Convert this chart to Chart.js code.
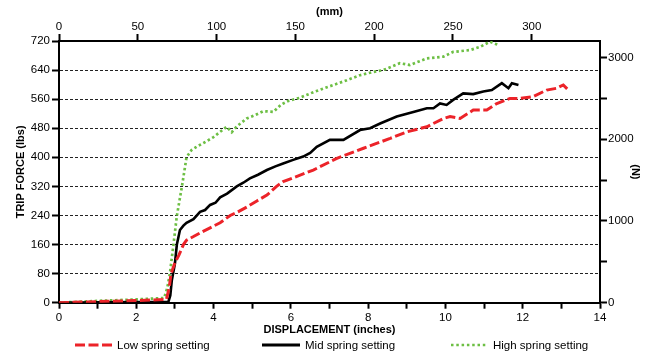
<!DOCTYPE html>
<html lang="en">
<head>
  <meta charset="UTF-8">
  <title>Trip force vs displacement</title>
  <script src="https://cdn.jsdelivr.net/npm/chart.js"></script>
  <style>
    body { margin: 0; background: #fff; }
    #wrap { position: relative; width: 650px; height: 352px; }
    .leg { position: absolute; top: 339px; display: flex; align-items: center;
           font: 11.5px "Liberation Sans", Arial, sans-serif; color: #000; white-space: nowrap; }
    .leg svg { margin-right: 5px; }
  </style>
</head>
<body>
  <div id="wrap">
    <canvas id="chart"></canvas>
    <div class="leg" style="left:75px">
      <svg width="37" height="6"><line x1="0" y1="3" x2="37" y2="3" stroke="#ec2329" stroke-width="3" stroke-dasharray="10 3.5"/></svg>Low spring setting
    </div>
    <div class="leg" style="left:262px">
      <svg width="38" height="6"><line x1="0" y1="3" x2="38" y2="3" stroke="#000" stroke-width="3"/></svg>Mid spring setting
    </div>
    <div class="leg" style="left:451px">
      <svg width="37" height="6"><line x1="0" y1="3" x2="37" y2="3" stroke="#6dbf44" stroke-width="2.6" stroke-dasharray="2.5 2.8"/></svg>High spring setting
    </div>
  </div>

  <script>
    // displacement (inches) / trip force (lbs)
    const lowX = [0, 1, 2, 2.78, 2.85, 2.9, 3.0, 3.1, 3.22, 3.3, 3.48, 3.65, 3.91, 4.17, 4.43, 4.6, 4.86, 5.12, 5.38, 5.63, 5.8, 6.24, 6.58, 7.19, 7.88, 8.57, 9.0, 9.52, 9.95, 10.12, 10.38, 10.72, 11.07, 11.33, 11.67, 11.93, 12.27, 12.62, 12.88, 13.05, 13.18];
    const lowY = [0, 3, 6, 9, 40, 80, 110, 130, 160, 172, 182, 192, 206, 220, 240, 248, 263, 280, 296, 320, 333, 351, 365, 397, 425, 452, 470, 484, 507, 512, 507, 530, 530, 548, 562, 562, 567, 585, 590, 599, 585];

    const midX = [0, 1, 2, 2.83, 2.88, 2.92, 3.0, 3.05, 3.13, 3.22, 3.3, 3.48, 3.65, 3.78, 3.91, 4.05, 4.17, 4.35, 4.6, 4.77, 4.94, 5.15, 5.38, 5.6, 5.8, 6.06, 6.32, 6.5, 6.67, 7.01, 7.36, 7.79, 8.05, 8.31, 8.74, 9.17, 9.52, 9.69, 9.86, 10.03, 10.2, 10.46, 10.72, 10.98, 11.2, 11.46, 11.63, 11.72, 11.89];
    const midY = [0, 1, 2, 2, 20, 62, 108, 160, 200, 212, 220, 230, 250, 255, 269, 275, 290, 300, 320, 330, 342, 352, 365, 375, 383, 393, 402, 412, 429, 448, 448, 475, 480, 493, 512, 525, 535, 535, 548, 544, 558, 576, 574, 581, 585, 604, 590, 604, 599];

    const highX = [0, 1, 2, 2.72, 2.8, 2.87, 2.96, 3.05, 3.18, 3.3, 3.43, 3.56, 3.75, 3.99, 4.17, 4.34, 4.47, 4.6, 4.86, 5.05, 5.29, 5.55, 5.75, 5.93, 6.24, 6.6, 7.1, 7.45, 7.79, 8.1, 8.39, 8.82, 9.08, 9.52, 9.95, 10.2, 10.64, 10.9, 11.15, 11.37];
    const highY = [0, 5, 9, 13, 40, 81, 158, 239, 319, 400, 420, 429, 440, 455, 470, 484, 469, 485, 507, 515, 527, 525, 545, 555, 564, 580, 599, 612, 626, 634, 640, 659, 654, 672, 677, 690, 695, 704, 718, 709];

    // right axis ticks (N); only the thousands carry a label
    const newtonTicks = [0, 500, 1000, 1500, 2000, 2500, 3000];

    const LB_TO_N = 4.448;
    const IN_MAX = 14;
    const LB_MAX = 720;
    const MM_MAX = 343.3;   // top scale as printed

    const pts = (xs, ys) => xs.map((x, i) => ({ x, y: ys[i] }));

    Chart.defaults.font.family = '"Liberation Sans", Arial, sans-serif';
    Chart.defaults.color = '#000';

    const tickFont = { size: 11.5 };
    const titleFont = { size: 11, weight: 'bold' };

    new Chart(document.getElementById('chart'), {
      type: 'line',
      data: {
        datasets: [
          { label: 'Low spring setting', data: pts(lowX, lowY), borderColor: '#ec2329',
            borderWidth: 3, borderDash: [10, 3.5] },
          { label: 'Mid spring setting', data: pts(midX, midY), borderColor: '#000',
            borderWidth: 2.6 },
          { label: 'High spring setting', data: pts(highX, highY), borderColor: '#6dbf44',
            borderWidth: 2.7, borderDash: [2.5, 2.6] }
        ]
      },
      options: {
        responsive: true,
        maintainAspectRatio: false,
        animation: false,
        layout: { padding: { left: 0, right: 0, top: 0, bottom: 14 } },
        elements: { point: { radius: 0 }, line: { tension: 0 } },
        plugins: { legend: { display: false }, tooltip: { enabled: false } },
        scales: {
          x: {
            type: 'linear', position: 'bottom', min: 0, max: IN_MAX,
            ticks: { stepSize: 1, autoSkip: false, maxRotation: 0, font: tickFont, padding: 2,
                     callback: v => (v % 2 === 0 ? v : '') },
            grid: { drawOnChartArea: false, tickLength: 6, tickWidth: 2, tickColor: '#000' },
            border: { color: '#000', width: 2 },
            title: { display: true, text: 'DISPLACEMENT (inches)', font: titleFont, padding: { top: 0, bottom: 1 } },
            afterFit: s => { s.height = 35.3; }
          },
          x2: {
            type: 'linear', position: 'top', min: 0, max: MM_MAX,
            ticks: { stepSize: 50, includeBounds: false, maxRotation: 0, font: tickFont, padding: 0 },
            grid: { drawOnChartArea: false, tickLength: 7, tickWidth: 2, tickColor: '#000' },
            border: { color: '#000', width: 2 },
            title: { display: true, text: '(mm)', font: titleFont, padding: { top: 5.4, bottom: 0 } },
            afterFit: s => { s.height = 41; }
          },
          y: {
            type: 'linear', position: 'left', min: 0, max: LB_MAX,
            ticks: { stepSize: 80, font: tickFont, padding: 2 },
            grid: { color: '#222', lineWidth: 1, tickLength: 7, tickWidth: 2, tickColor: '#000' },
            border: { color: '#000', width: 2, dash: [3, 2] },
            title: { display: true, text: 'TRIP FORCE (lbs)', font: titleFont, padding: { top: 14, bottom: 0 } },
            afterFit: s => { s.width = 59; }
          },
          y2: {
            type: 'linear', position: 'right', min: 0, max: LB_MAX * LB_TO_N,
            afterBuildTicks: s => { s.ticks = newtonTicks.map(v => ({ value: v })); },
            ticks: { autoSkip: false, font: tickFont, padding: 1,
                     callback: v => (v % 1000 === 0 ? v : '') },
            grid: { drawOnChartArea: false, tickLength: 7, tickWidth: 2, tickColor: '#000' },
            border: { color: '#000', width: 2 },
            title: { display: true, text: '(N)', font: titleFont, padding: { top: 8, bottom: 0 } },
            afterFit: s => { s.width = 50; }
          }
        }
      }
    });
  </script>
</body>
</html>
